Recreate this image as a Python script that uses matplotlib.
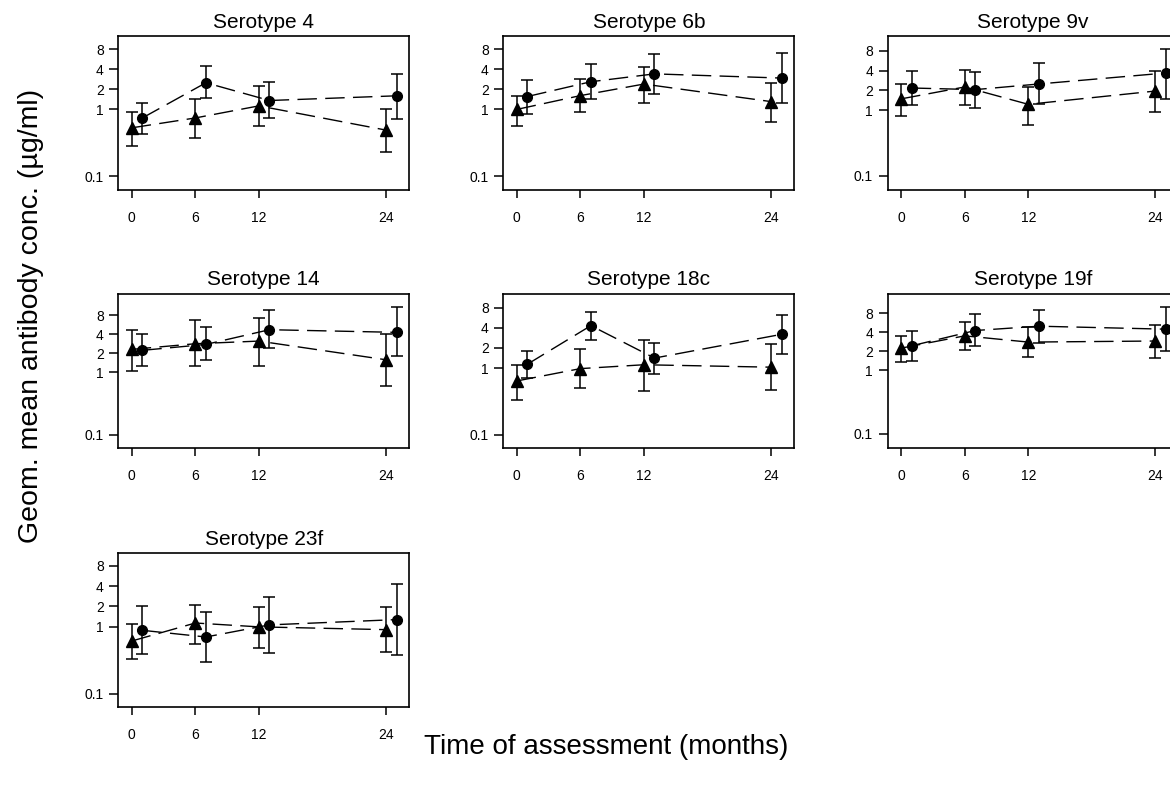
import matplotlib
matplotlib.use("Agg")
import matplotlib.pyplot as plt
import numpy as np

plt.rcParams['font.family'] = ['Liberation Sans', 'DejaVu Sans']

months = [0, 6, 12, 24]
serotypes = ["4", "6b", "9v", "14", "18c", "19f", "23f"]

# triangles (group A) - GMC with lower / upper CI
tri_gmc = [
    [0.53, 0.745, 1.13, 0.49],
    [1.0, 1.61, 2.4, 1.31],
    [1.49, 2.26, 1.23, 1.96],
    [2.3, 2.83, 3.12, 1.57],
    [0.64, 0.98, 1.12, 1.03],
    [2.24, 3.5, 2.79, 2.9],
    [0.61, 1.13, 0.99, 0.9],
]
tri_lo = [
    [0.28, 0.377, 0.56, 0.23],
    [0.57, 0.9, 1.26, 0.65],
    [0.83, 1.19, 0.6, 0.93],
    [1.04, 1.25, 1.25, 0.59],
    [0.335, 0.5, 0.457, 0.47],
    [1.37, 2.09, 1.6, 1.54],
    [0.33, 0.545, 0.475, 0.42],
]
tri_hi = [
    [0.92, 1.43, 2.27, 1.03],
    [1.58, 2.82, 4.29, 2.46],
    [2.54, 4.14, 2.26, 3.92],
    [4.74, 6.67, 7.36, 4.09],
    [1.12, 1.95, 2.6, 2.26],
    [3.5, 5.81, 4.8, 5.1],
    [1.08, 2.06, 1.94, 1.94],
]

# circles (group B)
circ_gmc = [
    [0.745, 2.51, 1.36, 1.6],
    [1.56, 2.6, 3.41, 2.95],
    [2.18, 2.06, 2.51, 3.69],
    [2.22, 2.76, 4.74, 4.3],
    [1.14, 4.32, 1.41, 3.2],
    [2.44, 4.25, 4.97, 4.46],
    [0.88, 0.7, 1.06, 1.27],
]
circ_lo = [
    [0.43, 1.49, 0.75, 0.73],
    [0.86, 1.43, 1.71, 1.26],
    [1.21, 1.1, 1.26, 1.5],
    [1.25, 1.53, 2.39, 1.78],
    [0.71, 2.66, 0.82, 1.62],
    [1.4, 2.41, 2.69, 1.99],
    [0.386, 0.3, 0.41, 0.38],
]
circ_hi = [
    [1.24, 4.44, 2.55, 3.41],
    [2.72, 4.8, 6.69, 7.08],
    [3.95, 3.86, 5.23, 8.5],
    [4.09, 5.23, 9.64, 10.9],
    [1.78, 6.92, 2.4, 6.3],
    [4.15, 7.67, 9.08, 10.1],
    [2.01, 1.64, 2.77, 4.33],
]

yticks = [0.1, 1, 2, 4, 8]
ytick_labels = ["0.1", "1", "2", "4", "8"]

# per-panel y range (the original panels are not all scaled alike)
ylims = [(0.062, 12.6), (0.062, 12.6), (0.061, 13.5), (0.062, 17.8),
         (0.064, 13.0), (0.060, 16.2), (0.063, 12.3)]

W, H = 1170, 794
fig = plt.figure(figsize=(W / 100, H / 100), dpi=100)

col_left = [118.3, 503.3, 887.7]
row_top = [36, 293.7, 553.3]
ax_w, ax_h = 291, 154

dodge = 1  # circles are shifted one month to the right

for i, sero in enumerate(serotypes):
    r, c = divmod(i, 3)
    left = col_left[c] / W
    bottom = (H - row_top[r] - ax_h) / H
    ax = fig.add_axes([left, bottom, ax_w / W, ax_h / H])

    x = np.array(months, dtype=float)
    g = np.array(tri_gmc[i])
    err = [g - np.array(tri_lo[i]), np.array(tri_hi[i]) - g]
    ax.errorbar(x, g, yerr=err, fmt='none', ecolor='black', elinewidth=1.1,
                capsize=4, capthick=1.1, zorder=2)
    ax.plot(x, g, color='black', lw=1.0, dashes=(14, 6), zorder=3)
    ax.plot(x, g, ls='none', marker='^', ms=8, color='black', zorder=4)

    xc = x + dodge
    g = np.array(circ_gmc[i])
    err = [g - np.array(circ_lo[i]), np.array(circ_hi[i]) - g]
    ax.errorbar(xc, g, yerr=err, fmt='none', ecolor='black', elinewidth=1.1,
                capsize=4, capthick=1.1, zorder=2)
    ax.plot(xc, g, color='black', lw=1.0, dashes=(14, 6), zorder=3)
    ax.plot(xc, g, ls='none', marker='o', ms=7, color='black', zorder=4)

    ax.set_yscale('log')
    ax.set_ylim(*ylims[i])
    ax.set_xlim(-1.27, 26.2)
    ax.set_yticks(yticks)
    ax.set_yticklabels(ytick_labels)
    ax.minorticks_off()
    ax.set_xticks(months)
    ax.set_xticklabels([str(m) for m in months])
    ax.tick_params(axis='x', length=6, width=1.1, pad=9, labelsize=10)
    ax.tick_params(axis='y', length=6.5, width=1.1, pad=4, labelsize=10)
    for sp in ax.spines.values():
        sp.set_linewidth(1.2)
    ax.set_title("Serotype " + sero, fontsize=15, pad=6)

fig.text(606 / W, 1 - 747 / H, "Time of assessment (months)", ha='center', va='center', fontsize=20)
fig.text(31 / W, 1 - 316 / H, "Geom. mean antibody conc. (µg/ml)", ha='center', va='center',
         rotation=90, fontsize=20.5)

fig.savefig("out.png", dpi=100)
